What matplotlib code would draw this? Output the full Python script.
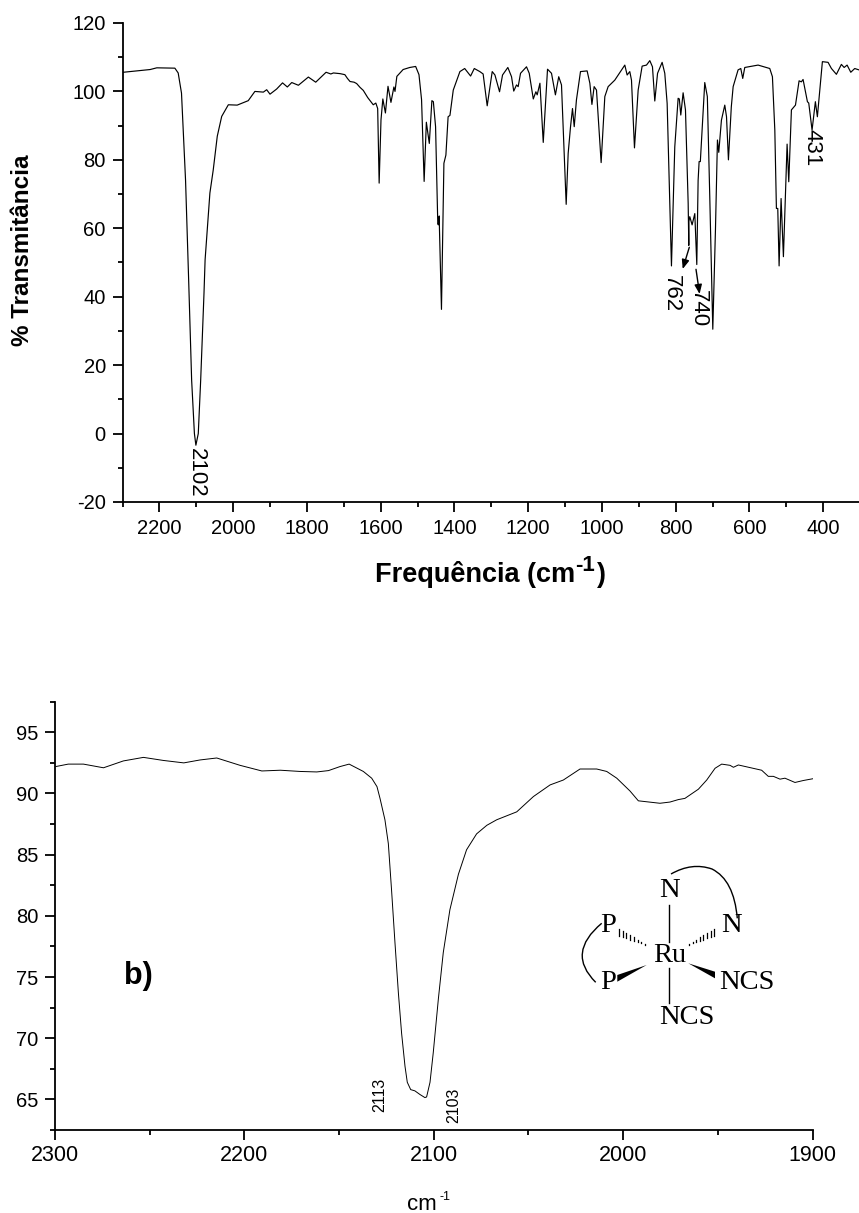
import matplotlib
matplotlib.use("Agg")
import matplotlib.pyplot as plt
from matplotlib.patches import PathPatch, Polygon
from matplotlib.path import Path
from matplotlib.ticker import MultipleLocator

plt.rcParams['font.family'] = ['Liberation Sans', 'DejaVu Sans']
plt.rcParams['axes.unicode_minus'] = False

# Panel a: survey spectrum
wn_a = [2300, 2298, 2225, 2207, 2158, 2149, 2140, 2129, 2120.6, 2112.5, 2105, 2101, 2094.5, 2088, 2079, 2076, 2063, 2054,
        2043, 2031, 2013, 1989, 1959, 1941, 1918, 1909, 1900, 1882, 1866, 1853, 1841, 1823, 1796, 1776, 1748, 1735, 1728,
        1710, 1697, 1690, 1683, 1672, 1665, 1656, 1647, 1635, 1620, 1613, 1608, 1604, 1599, 1594, 1587, 1580, 1572, 1564, 1561, 1556, 1539,
        1521, 1505, 1496, 1489, 1482, 1476, 1468, 1461, 1457, 1451, 1445, 1443.5, 1441, 1440.5, 1435, 1428.4, 1423,
        1417, 1412, 1403, 1385, 1372, 1356, 1346, 1331, 1322, 1311, 1297.4, 1290, 1277.5, 1269.4, 1255, 1245, 1239,
        1231.5, 1227, 1220.6, 1204.4, 1197, 1186, 1179, 1175.4, 1168, 1159, 1147.4, 1136.6, 1126, 1117, 1109.5, 1096.8,
        1091.4, 1085, 1079.7, 1075, 1069, 1058, 1040, 1032.6, 1027, 1021, 1014.6, 1002, 992, 983, 965, 937.8, 931.5,
        924.3, 919.7, 911.6, 901.6, 890.8, 879, 870, 862.8, 856.5, 849, 836.6, 829.4, 823, 811.3, 802.3, 793.2, 790,
        786, 779.7, 773.3, 766, 765, 764.3, 764, 761.6, 755.3, 748, 742.6, 739, 736.3, 733, 721, 714, 707.4, 699.2,
        692, 686.6, 683, 675.8, 666.7, 662, 656.8, 649, 644, 630.6, 623.3, 618, 612.5, 576.4, 544.7, 537.5, 531, 526.7,
        523, 519.4, 514, 507.7, 497.7, 493.2, 486, 475, 465.2, 459, 454.4, 442.6, 439, 430, 421, 415.6, 402, 386.6,
        377.5, 364, 350.5, 343, 335, 325, 314.3, 303, 300]
tr_a = [105.5, 105.6, 106.4, 106.9, 106.8, 105.4, 99.5, 74, 44.9, 15.6, 0, -3.4, 0, 15.6, 41, 50.8, 70.3, 77,
        86.9, 92.7, 96.1, 96, 97.3, 100, 99.8, 100.5, 99.2, 100.7, 102.5, 101.3, 102.6, 101.8, 104.2, 102.7, 105.6, 105.1, 105.4,
        105.2, 104.9, 103.8, 102.9, 102.7, 102.3, 101.2, 100.3, 98.2, 96.1, 96.6, 95, 73.2, 91.7, 97.8, 93.7, 101.5, 96.8, 101.3, 100, 104.4, 106.4,
        107, 107.3, 104.9, 97.6, 73.7, 91, 84.8, 97.3, 97, 89.7, 61.4, 61, 63.6, 60, 36.3, 79, 81.4,
        92.6, 93, 100.4, 105.8, 106.7, 104.5, 106.7, 105.8, 105.1, 95.8, 105.8, 104.8, 99.9, 104.8, 107, 104.3, 100.1,
        101.9, 101.4, 105.3, 107.2, 105.3, 97.8, 99.9, 99, 102.4, 85.1, 106.5, 105.3, 99, 104.3, 101.9, 67,
        81.9, 89.7, 95, 89.7, 97.5, 105.8, 106, 102.4, 96.2, 101.4, 100.4, 79.2, 98.5, 101.4, 103.3, 107.7, 104.8,
        105.8, 103.3, 83.5, 100.4, 107.4, 107.7, 109, 107.2, 97.2, 105.3, 108.5, 105.3, 96.5, 49, 83.8, 98, 97.8,
        93.1, 99.6, 94.6, 67.3, 60, 55, 62, 63.4, 61, 64.3, 49.4, 74, 79.5, 79.5, 102.6, 98.5, 69.2, 30.5,
        59.5, 85.8, 82.2, 91.6, 96, 92.6, 80, 95.5, 101.4, 106.3, 106.7, 103.8, 107, 107.7, 106.7, 104.3, 88.7, 65.8,
        65.8, 49, 68.7, 51.7, 84.6, 73.6, 94.6, 96, 103.1, 102.8, 103.5, 97, 96.6, 88.7, 97, 92.6, 108.7, 108.5,
        106.7, 105, 107.9, 107, 107.7, 105.6, 106.7, 106.3, 106.5]

# Panel b: expanded region
wn_b = [2299.6, 2293, 2285, 2274.4, 2263.9, 2253.3, 2242.8, 2232, 2223.4, 2214.6, 2202.3, 2190.8, 2181, 2170.6, 2161.8,
        2155.6, 2149.5, 2144.7, 2137.2, 2132.8, 2130, 2128.4, 2125.8, 2124, 2122.3, 2120.5, 2118.7, 2117, 2115.2, 2114,
        2112.2, 2110, 2107.3, 2104.7, 2103.8, 2102, 2100.3, 2097.6, 2095, 2091.5, 2087, 2082.7, 2077.4, 2072, 2066.8,
        2056.2, 2047.4, 2038.6, 2031.6, 2022.8, 2014, 2008.7, 2003.4, 1996.4, 1992, 1980.6, 1975.3, 1970.9, 1967.4,
        1960.3, 1955.9, 1951.5, 1948, 1943.6, 1941.8, 1939.2, 1926.9, 1923.4, 1920.7, 1917.2, 1914.6, 1909.3, 1904.9, 1900]
tr_b = [92.2, 92.4, 92.4, 92.1, 92.66, 92.95, 92.7, 92.5, 92.74, 92.9, 92.3, 91.84, 91.9, 91.8, 91.76,
        91.87, 92.2, 92.4, 91.8, 91.25, 90.56, 89.6, 87.85, 85.9, 82.1, 77.8, 73.7, 70.4, 67.7, 66.4,
        65.8, 65.7, 65.4, 65.15, 65.2, 66.4, 68.8, 73.2, 77, 80.5, 83.4, 85.4, 86.7, 87.4, 87.85,
        88.5, 89.75, 90.7, 91.1, 92, 92, 91.8, 91.25, 90.2, 89.4, 89.2, 89.3, 89.5, 89.6,
        90.35, 91.1, 92.06, 92.4, 92.3, 92.14, 92.33, 91.9, 91.4, 91.4, 91.17, 91.25, 90.9, 91.06, 91.2]

W, H = 859, 1213
fig = plt.figure(figsize=(W / 100, H / 100), dpi=100, facecolor='white')


def axes_px(left, top, right, bottom):
    return fig.add_axes([left / W, 1 - bottom / H, (right - left) / W, (bottom - top) / H])


def style(ax, xmaj, xmin, ymaj, ymin, xpad, ypad, xsize):
    for s in ('top', 'right'):
        ax.spines[s].set_visible(False)
    for s in ('left', 'bottom'):
        ax.spines[s].set_linewidth(1.3)
    ax.xaxis.set_major_locator(MultipleLocator(xmaj))
    ax.xaxis.set_minor_locator(MultipleLocator(xmin))
    ax.yaxis.set_major_locator(MultipleLocator(ymaj))
    ax.yaxis.set_minor_locator(MultipleLocator(ymin))
    ax.tick_params(axis='both', which='major', length=7, width=1.3, labelsize=14.5)
    ax.tick_params(axis='both', which='minor', length=3.6, width=1.3)
    ax.tick_params(axis='x', which='major', pad=xpad, labelsize=xsize)
    ax.tick_params(axis='y', which='major', pad=ypad)
    ax.patch.set_alpha(0)


ax1 = axes_px(122.5, 23, 860, 502)
ax1.plot(wn_a, tr_a, color='black', lw=0.85)
ax1.set_xlim(2300, 300)
ax1.set_ylim(-20, 120)
style(ax1, 200, 100, 20, 10, 5, 5, 14.5)

ax2 = axes_px(55, 701.7, 812.6, 1130)
ax2.plot(wn_b, tr_b, color='black', lw=0.7)
ax2.set_xlim(2300, 1900)
ax2.set_ylim(62.5, 97.5)
style(ax2, 100, 50, 5, 2.5, 3.5, 5, 15.5)

# Overlay in image pixels for annotations and the structure drawing
ov = fig.add_axes([0, 0, 1, 1])
ov.set_xlim(0, W)
ov.set_ylim(H, 0)
ov.axis('off')
ov.patch.set_alpha(0)


def t(x, y, s, size, rot=0, weight='normal', family=None, ha='center', va='center'):
    kw = {} if family is None else {'family': family}
    ov.text(x, y, s, fontsize=size, rotation=rot, weight=weight, ha=ha, va=va, **kw)


t(23, 250, '% Transmitância', 17.5, rot=90, weight='bold')
t(375, 582, 'Frequência (cm', 19.5, weight='bold', ha='left', va='baseline')
t(575, 571, '-1', 16, weight='bold', ha='left', va='baseline')
t(597, 582, ')', 19.5, weight='bold', ha='left', va='baseline')
t(422, 1210, 'cm', 16, va='baseline')
t(439, 1200, '-1', 9, ha='left', va='baseline')
t(138, 976, 'b)', 22, weight='bold')
t(196, 472.7, '2102', 16, rot=-90)
t(671.7, 293.3, '762', 16, rot=-90)
t(698.3, 308.3, '740', 16, rot=-90)
t(812.3, 147.3, '431', 16, rot=-90)
t(380, 1095, '2113', 11.5, rot=90)
t(454, 1105.7, '2103', 11.5, rot=90)

for start, end in (((689.3, 247.3), (682.7, 269)), ((696, 269.3), (699.6, 294))):
    ov.annotate('', xy=end, xytext=start,
                arrowprops=dict(arrowstyle='-|>,head_length=0.55,head_width=0.22', color='black', lw=1.0,
                                shrinkA=0, shrinkB=0))

serif = ['Liberation Serif', 'DejaVu Serif']
for x, y, s in ((669, 890.7, 'N'), (731.7, 925, 'N'), (607.7, 926, 'P'), (607.7, 982.7, 'P'),
                (669.3, 955, 'Ru'), (747.3, 982.7, 'NCS'), (686.7, 1018, 'NCS')):
    t(x, y, s, 20.5, family=serif)

for y0, y1 in ((905, 941.7), (968.3, 1003.3)):
    ov.plot([669, 669], [y0, y1], color='black', lw=1.0)
ov.add_patch(Polygon([(646.7, 965), (617.3, 975), (617.3, 981.7)], closed=True, color='black', lw=0))
ov.add_patch(Polygon([(688.3, 963.3), (715, 971.7), (715, 978.3)], closed=True, color='black', lw=0))

for (x0, y0), (x1, y1) in (((646.7, 945), (617.3, 931.7)), ((687.3, 945), (716, 931.7))):
    n = 8
    for i in range(n):
        f = (i + 0.5) / n
        xc, yc = x0 + (x1 - x0) * f, y0 + (y1 - y0) * f
        half = 0.4 + 3.0 * f
        ov.plot([xc, xc], [yc - half, yc + half], color='black', lw=0.9)

for pts, codes in (
    ([(601.7, 923.3), (566, 953), (595.7, 982.3)], [Path.MOVETO, Path.CURVE3, Path.CURVE3]),
    ([(671, 874), (692, 862), (712, 869), (734, 880), (737.3, 918.3)],
     [Path.MOVETO, Path.CURVE3, Path.CURVE3, Path.CURVE3, Path.CURVE3]),
):
    ov.add_patch(PathPatch(Path(pts, codes), fc='none', ec='black', lw=1.0))

fig.savefig('out.png', dpi=100)
